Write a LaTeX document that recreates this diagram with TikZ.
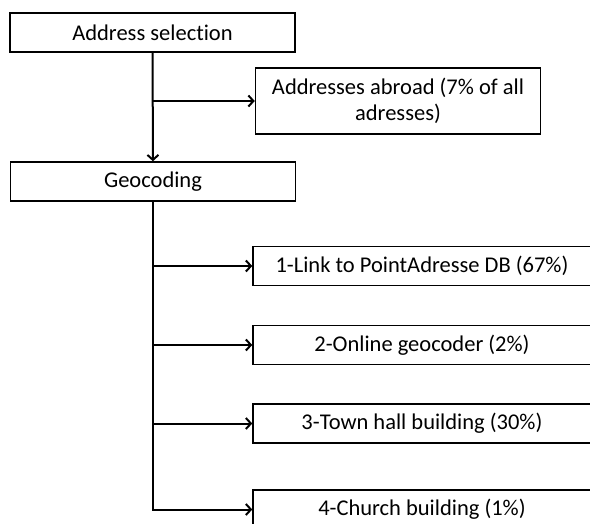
\documentclass[tikz,border=0pt]{standalone}
\usepackage{fontspec}
\setmainfont{Carlito}[Ligatures=NoCommon]
\usetikzlibrary{arrows.meta,positioning,calc}

\begin{document}
\begin{tikzpicture}[x=1pt,y=-1pt,
		box/.style={draw,line width=1.5pt,inner sep=2pt,minimum height=39pt,font=\fontsize{22.5}{26}\selectfont},
		wide/.style={box,minimum width=285pt},
		meth/.style={box,minimum width=338pt},
		flow/.style={line width=2pt,-{Straight Barb[length=5pt,width=11pt]}}]
	\clip (0,0) rectangle (590,524);
	\node[wide] (sel) at (152.5,32.5) {Address selection};
	\node[wide,minimum height=66pt,align=center] (abroad) at (398,101) {Addresses abroad (7\% of all\\adresses)};
	\node[wide] (geo) at (153,181.5) {Geocoding};
	\node[meth] (link) at (422,266) {1-Link to PointAdresse DB (67\%)};
	\node[meth] (online) at (422,345) {2-Online geocoder (2\%)};
	\node[meth] (town) at (422,423.5) {3-Town hall building (30\%)};
	\node[meth] (church) at (422,509.5) {4-Church building (1\%)};
	\draw[flow] (sel) -- (geo);
	\draw[flow] (sel.south |- abroad.west) -- (abroad.west);
	\draw[flow] (geo.south) |- (church.west);
	\foreach \m in {link,online,town}
		\draw[flow] (geo.south |- \m.west) -- (\m.west);
\end{tikzpicture}
\end{document}
